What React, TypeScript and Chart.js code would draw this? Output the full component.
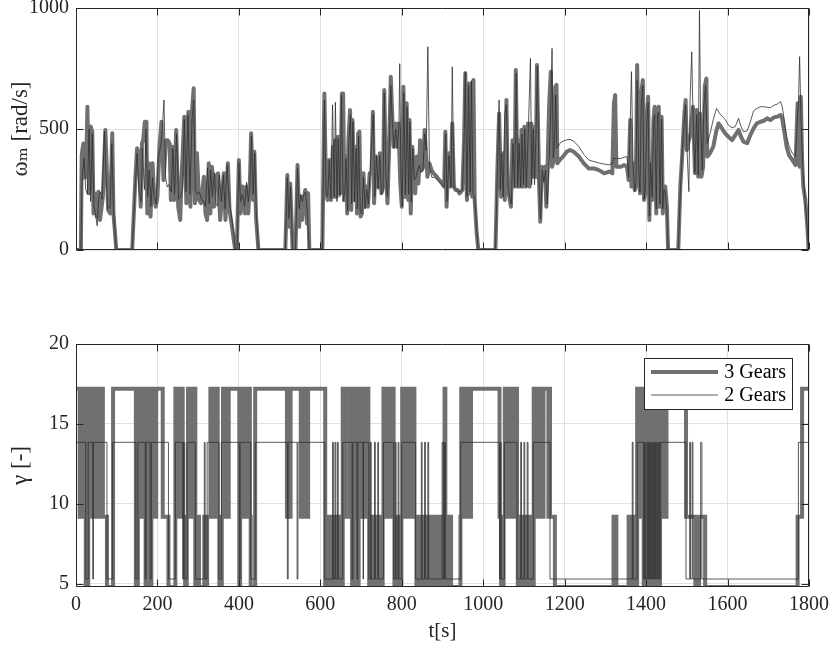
import React, { useEffect, useRef } from 'react';
import { Chart, registerables } from 'chart.js';

Chart.register(...registerables);

// ---------- data ----------
const seriesLabels = ['3 Gears', '2 Gears'];
const timeTicks = [0, 200, 400, 600, 800, 1000, 1200, 1400, 1600, 1800];
const speedTicks = [0, 500, 1000];
const ratioTicks = [5, 10, 15, 20];

// motor speed, 3 gears [t, omega]
const speed3: number[][] = [
  [0,0],[12,0],[14,392],[18,440],[22,300],[26,420],[28,592],[32,234],[36,510],[40,489],[43,151],[47,234],[51,138],[55,241],[59,124],[66,220],[72,496],[76,317],[79,165],[84,151],[89,482],[92,151],[99,0],
  [138,0],[146,303],[150,420],[154,400],[159,179],[162,440],[165,454],[169,530],[173,530],[175,151],[179,358],[183,138],[188,358],[192,207],[196,179],[200,220],[205,427],[210,530],[215,289],[221,454],[225,454],[230,440],[233,207],[237,427],[241,207],[246,496],[251,179],[256,124],[259,289],[266,551],[271,193],[276,571],[281,179],[285,578],[289,668],[292,193],[297,400],[302,207],[307,193],[314,303],[318,151],[322,124],[326,358],[330,151],[334,344],[339,179],[343,303],[349,317],[354,124],[358,207],[363,317],[367,124],[373,358],[377,165],[383,96],[391,0],[395,0],
  [400,372],[404,151],[409,262],[415,151],[419,262],[423,151],[427,275],[430,482],[435,207],[438,406],[442,138],[448,0],[514,0],[519,310],[523,96],[526,275],[532,0],[539,0],[544,351],[548,96],[552,220],[555,124],[559,207],[563,248],[567,110],[570,234],[573,0],[605,0],
  [610,647],[614,234],[618,207],[622,372],[626,207],[631,427],[633,220],[636,454],[640,220],[643,468],[646,454],[649,234],[653,647],[656,647],[659,207],[663,386],[666,151],[669,454],[673,578],[676,165],[679,537],[683,207],[687,427],[690,151],[693,482],[696,489],[699,138],[702,151],[706,317],[709,179],[713,262],[717,179],[721,317],[726,317],[729,571],[732,193],[736,386],[741,262],[746,400],[750,234],[754,262],[757,661],[761,317],[765,193],[769,427],[773,716],[777,537],[780,427],[784,523],[788,427],[792,523],[796,289],
  [800,179],[804,675],[808,220],[812,606],[816,207],[819,537],[822,151],[826,427],[830,289],[833,234],[837,386],[841,275],[845,454],[849,330],[853,344],[856,496],[859,413],[863,303],[868,358],[873,330],[878,317],[886,303],[892,289],[899,275],[904,262],[907,489],[910,179],[915,400],[920,262],[924,523],[928,262],[932,248],[937,248],[942,234],[949,248],[953,454],[956,730],[960,207],[963,688],[967,234],[970,688],[973,220],[976,702],[979,207],[984,69],[988,0],
  [1030,0],[1035,344],[1039,564],[1044,220],[1048,400],[1053,207],[1057,620],[1060,262],[1064,220],[1068,179],[1072,454],[1077,262],[1080,744],[1084,262],[1087,454],[1091,262],[1094,496],[1097,262],[1101,509],[1105,262],[1110,523],[1114,262],[1118,523],[1122,303],[1125,509],[1129,303],[1132,764],[1137,289],[1140,117],[1144,344],[1148,289],[1152,344],[1155,179],[1158,344],[1162,606],[1166,737],[1169,344],[1173,372],[1177,675],[1180,682],[1182,358],[1188,372],[1196,386],
  [1205,406],[1213,413],[1222,406],[1235,386],[1247,358],[1259,337],[1272,337],[1284,330],[1297,317],[1309,324],[1317,317],[1321,606],[1324,640],[1327,344],[1338,344],[1346,351],[1353,344],[1357,289],[1361,537],[1364,262],[1368,358],[1372,248],[1375,262],[1378,764],[1382,344],[1385,234],[1388,647],[1392,702],[1395,207],[1398,234],
  [1402,564],[1405,633],[1408,124],[1411,372],[1415,207],[1418,537],[1421,592],[1425,151],[1428,578],[1431,592],[1434,179],[1438,551],[1441,151],[1444,262],[1447,262],[1451,179],[1454,0],[1479,0],[1484,262],[1489,400],[1494,564],[1497,620],[1500,413],[1505,454],[1510,482],[1515,592],[1520,317],[1524,578],[1528,303],[1532,564],[1536,303],[1540,344],[1544,675],[1548,709],[1550,386],[1557,400],[1565,427],[1572,489],[1578,523],[1586,503],[1594,482],
  [1602,468],[1611,454],[1619,475],[1627,496],[1633,468],[1639,448],[1648,441],[1656,475],[1664,503],[1672,523],[1681,530],[1689,534],[1697,544],[1705,537],[1714,548],[1722,551],[1730,558],[1734,544],[1740,482],[1745,427],[1751,392],[1759,372],[1767,351],[1772,606],[1774,592],[1777,344],[1780,633],[1783,372],[1786,262],[1791,207],[1796,96],[1799,0]
];

// motor speed, 2 gears [t, omega]
const speed2: number[][] = [
  [0,0],[12,0],[15,300],[20,380],[24,250],[28,230],[32,500],[36,200],[40,480],[44,180],[48,150],[52,100],[56,220],[60,240],[64,210],[70,490],[74,300],[78,170],[84,180],[88,440],[92,160],[99,0],
  [138,0],[146,280],[150,400],[155,240],[160,200],[163,420],[168,250],[172,500],[176,220],[180,330],[184,180],[188,300],[192,220],[197,190],[202,380],[208,430],[212,500],[216,620],[220,300],[224,260],[228,270],[234,240],[238,420],[242,230],[247,480],[252,210],[257,220],[262,260],[266,540],[270,240],[275,560],[280,230],[285,540],[289,620],[293,250],[298,230],[303,240],[308,210],[313,200],[318,180],[323,340],[327,190],[331,330],[335,220],[340,320],[344,190],[348,180],[352,310],[357,200],[362,310],[366,170],[371,350],[376,210],[381,150],[388,60],[391,0],[396,0],
  [400,360],[404,200],[409,230],[414,180],[419,280],[423,200],[427,260],[431,470],[435,230],[439,400],[443,140],[448,0],[514,0],[519,300],[523,130],[527,260],[532,0],[539,0],[544,340],[548,170],[552,230],[556,200],[560,230],[564,240],[568,150],[573,0],[605,0],
  [610,620],[614,230],[618,220],[622,370],[626,210],[630,600],[634,220],[637,610],[641,200],[644,460],[648,220],[652,640],[656,200],[660,240],[663,380],[667,160],[670,450],[674,560],[677,190],[680,530],[684,200],[688,420],[691,170],[694,470],[698,160],[702,150],[706,300],[710,170],[714,250],[718,190],[722,320],[726,450],[730,560],[734,220],[738,390],[742,250],[746,390],[750,230],[754,240],[757,650],[761,300],[765,220],[769,420],[773,680],[777,520],[781,420],[785,500],[789,420],[793,510],[795,770],[798,300],
  [801,180],[805,650],[809,230],[813,590],[817,230],[820,530],[823,200],[827,420],[831,290],[835,300],[839,330],[843,350],[847,320],[852,330],[856,480],[860,410],[864,840],[868,340],[874,300],[880,300],[887,290],[893,280],[899,270],[904,260],[908,480],[911,200],[916,390],[921,260],[924,757],[928,260],[933,250],[938,240],[943,240],[949,250],[953,450],[956,737],[960,220],[964,680],[968,240],[971,700],[975,230],[979,220],[984,80],[988,0],
  [1030,0],[1035,340],[1039,620],[1042,250],[1045,400],[1049,220],[1053,560],[1057,600],[1061,260],[1065,220],[1069,190],[1073,440],[1077,260],[1081,730],[1085,260],[1088,440],[1092,260],[1095,480],[1099,270],[1102,500],[1106,260],[1111,510],[1116,792],[1119,270],[1123,500],[1126,270],[1130,510],[1133,760],[1137,280],[1141,130],[1145,330],[1149,280],[1153,330],[1157,190],[1161,330],[1166,580],[1169,833],[1172,380],[1175,440],[1178,640],[1181,420],[1188,440],[1196,450],
  [1205,455],[1213,457],[1222,450],[1235,427],[1247,395],[1259,372],[1272,365],[1284,360],[1297,355],[1309,352],[1317,358],[1321,380],[1324,378],[1327,378],[1338,378],[1346,383],[1353,386],[1357,300],[1361,520],[1364,737],[1368,340],[1372,240],[1375,280],[1378,700],[1382,330],[1385,240],[1388,600],[1392,680],[1395,210],[1398,250],
  [1402,540],[1405,610],[1408,140],[1411,360],[1415,220],[1418,520],[1421,560],[1425,170],[1428,560],[1431,570],[1434,190],[1438,540],[1441,170],[1444,250],[1447,240],[1451,160],[1454,0],[1479,0],[1484,240],[1489,420],[1494,540],[1497,600],[1500,430],[1505,241],[1508,620],[1512,819],[1515,560],[1520,320],[1524,560],[1528,310],[1531,990],[1534,520],[1538,330],[1542,600],[1546,680],[1550,440],[1557,480],[1565,540],[1573,585],[1580,565],[1588,550],[1594,540],
  [1602,516],[1611,505],[1619,510],[1627,544],[1633,510],[1639,489],[1648,492],[1656,530],[1664,575],[1672,585],[1681,592],[1689,592],[1697,590],[1705,588],[1714,598],[1722,603],[1730,613],[1734,595],[1740,530],[1745,470],[1751,430],[1759,400],[1767,385],[1772,560],[1774,600],[1777,799],[1780,560],[1783,420],[1786,300],[1791,190],[1796,90],[1799,0]
];

// gear ratio, 3 gears [t, gamma] (value held until next switch)
const gear3: number[][] = [
  [0,17.2],[9,9.2],[11,17.2],[13,9.2],[15,17.2],[17,9.2],[19,17.2],[21,9.2],[23,17.2],[24,4.8],[30,9.2],[32,17.2],[34,9.2],[36,17.2],[38,9.2],[40,17.2],[42,9.2],[44,17.2],[46,9.2],[48,17.2],[50,9.2],[52,17.2],[54,9.2],[56,17.2],[58,9.2],[60,17.2],[62,9.2],[64,17.2],[66,9.2],[76,4.8],[91,17.2],
  [147,4.8],[152,17.2],[161,9.2],[163,17.2],[165,9.2],[167,17.2],[169,9.2],[171,4.8],[173,9.2],[175,17.2],[177,9.2],[179,17.2],[181,9.2],[183,4.8],[185,17.2],[187,9.2],[189,17.2],[191,9.2],[193,17.2],[195,9.2],[197,17.2],[213,9.2],[227,4.8],
  [244,17.2],[246,9.2],[248,17.2],[250,9.2],[252,17.2],[254,9.2],[256,17.2],[258,9.2],[260,17.2],[262,9.2],[268,4.8],[272,9.2],[275,17.2],[277,9.2],[279,17.2],[281,9.2],[283,17.2],[285,9.2],[287,17.2],[289,9.2],[291,17.2],[293,4.8],[300,9.2],[302,4.8],[315,9.2],[317,4.8],[322,9.2],
  [330,17.2],[332,9.2],[334,17.2],[336,9.2],[338,17.2],[340,9.2],[342,17.2],[344,9.2],[346,17.2],[348,9.2],[352,4.8],[358,9.2],[361,17.2],[363,9.2],[366,17.2],[368,9.2],[371,17.2],[373,9.2],[375,17.2],
  [401,4.8],[403,9.2],[405,17.2],[407,9.2],[409,17.2],[411,9.2],[413,17.2],[415,9.2],[417,17.2],[419,9.2],[421,17.2],[423,9.2],[425,17.2],[427,9.2],[429,4.8],[440,17.2],[518,9.2],[520,17.2],[522,9.2],[524,17.2],[526,9.2],[527,17.2],
  [552,9.2],[554,17.2],[556,9.2],[558,17.2],[560,9.2],[562,17.2],[564,9.2],[566,17.2],[568,9.2],[570,17.2],[612,4.8],[616,9.2],[618,4.8],[622,9.2],[624,4.8],[628,9.2],[630,4.8],[634,9.2],[636,4.8],[640,9.2],[642,4.8],[646,9.2],[648,4.8],[652,9.2],[654,4.8],
  [655,17.2],[660,9.2],[662,17.2],[672,9.2],[674,17.2],[676,9.2],[678,4.8],[681,9.2],[683,17.2],[685,9.2],[687,17.2],[689,9.2],[691,4.8],[694,9.2],[696,17.2],[698,9.2],[700,17.2],[702,9.2],[704,17.2],[706,9.2],[708,17.2],[710,9.2],[712,17.2],[714,9.2],[716,17.2],
  [718,9.2],[720,4.8],[724,9.2],[726,4.8],[730,9.2],[732,4.8],[736,9.2],[738,4.8],[742,9.2],[744,4.8],[748,9.2],[750,4.8],[753,9.2],[755,17.2],[757,9.2],[759,17.2],[761,9.2],[763,17.2],[765,9.2],[767,17.2],[776,9.2],[778,17.2],
  [780,9.2],[782,4.8],[785,9.2],[787,4.8],[790,9.2],[792,4.8],[795,9.2],[797,4.8],[799,9.2],[801,17.2],[803,9.2],[805,17.2],[807,9.2],[809,17.2],[811,9.2],[813,17.2],[815,9.2],[817,17.2],[819,9.2],[821,17.2],[823,9.2],[825,17.2],[827,9.2],[829,17.2],[831,9.2],
  [836,4.8],[840,9.2],[843,4.8],[847,9.2],[850,4.8],[854,9.2],[857,4.8],[861,9.2],[864,4.8],[868,9.2],[871,4.8],[875,9.2],[878,4.8],[882,9.2],[885,4.8],[889,9.2],[892,4.8],[900,9.2],[903,4.8],[905,17.2],[907,9.2],[909,4.8],[913,9.2],[915,4.8],[919,9.2],[921,4.8],
  [944,9.2],[946,17.2],[948,9.2],[950,17.2],[952,9.2],[954,17.2],[956,9.2],[958,17.2],[960,9.2],[962,17.2],[964,9.2],[966,17.2],[968,9.2],[970,17.2],[1040,9.2],[1044,4.8],[1050,9.2],
  [1053,17.2],[1055,9.2],[1057,17.2],[1059,9.2],[1061,17.2],[1063,9.2],[1065,17.2],[1067,9.2],[1069,17.2],[1071,9.2],[1073,17.2],[1075,9.2],[1077,17.2],[1079,9.2],[1081,17.2],
  [1083,9.2],[1085,4.8],[1088,9.2],[1090,4.8],[1093,9.2],[1095,4.8],[1098,9.2],[1100,4.8],[1103,9.2],[1105,4.8],[1108,9.2],[1110,4.8],[1113,9.2],[1115,4.8],[1118,9.2],[1120,4.8],
  [1124,17.2],[1126,9.2],[1128,17.2],[1130,9.2],[1132,17.2],[1134,9.2],[1136,17.2],[1138,9.2],[1140,17.2],[1142,9.2],[1144,17.2],[1146,9.2],[1148,17.2],[1160,9.2],[1162,17.2],[1164,9.2],[1176,4.8],
  [1320,9.2],[1327,4.8],[1357,9.2],[1361,4.8],[1363,9.2],[1366,4.8],[1369,9.2],[1371,4.8],[1378,17.2],[1380,9.2],[1382,17.2],[1384,9.2],[1386,17.2],[1388,9.2],[1390,17.2],[1392,9.2],
  [1394,4.8],[1396,9.2],[1398,17.2],[1400,9.2],[1402,4.8],[1404,17.2],[1406,9.2],[1408,4.8],[1410,17.2],[1412,9.2],[1414,4.8],[1416,17.2],[1418,9.2],[1420,4.8],[1422,17.2],[1424,9.2],[1426,4.8],[1428,17.2],[1430,9.2],[1432,4.8],[1434,17.2],[1436,9.2],[1438,17.2],[1440,9.2],[1442,17.2],[1444,9.2],[1446,17.2],[1448,9.2],[1450,17.2],
  [1498,9.2],[1521,4.8],[1524,9.2],[1527,4.8],[1530,9.2],[1545,4.8],[1772,9.2],[1783,17.2],[1800,17.2]
];

// gear ratio, 2 gears [t, gamma]
const gear2: number[][] = [
  [0,13.85],[24,5.3],[30,13.85],[41,5.3],[43,13.85],[76,5.3],[90,13.85],[147,5.3],[152,13.85],[170,5.3],[172,13.85],[182,5.3],[185,13.85],[227,5.3],[244,13.85],[262,5.3],[264,13.85],[267,5.3],[273,13.85],[293,5.3],[315,13.85],[317,5.3],[322,13.85],[351,5.3],[357,13.85],
  [401,5.3],[403,13.85],[429,5.3],[440,13.85],[519,5.3],[521,13.85],[543,5.3],[545,13.85],[611,5.3],[630,13.85],[632,5.3],[636,13.85],[638,5.3],[642,13.85],[644,5.3],[655,13.85],[678,5.3],[680,13.85],[690,5.3],[692,13.85],[705,5.3],[706,13.85],
  [719,5.3],[723,13.85],[725,5.3],[733,13.85],[735,5.3],[741,13.85],[743,5.3],[755,13.85],[780,5.3],[784,13.85],[786,5.3],[791,13.85],[793,5.3],[800,13.85],[834,5.3],[848,13.85],[850,5.3],[856,13.85],[858,5.3],[864,13.85],[866,5.3],[899,13.85],[902,5.3],[905,13.85],[907,5.3],[945,13.85],
  [1040,5.3],[1042,13.85],[1044,5.3],[1052,13.85],[1083,5.3],[1092,13.85],[1094,5.3],[1100,13.85],[1102,5.3],[1108,13.85],[1110,5.3],[1123,13.85],[1164,5.3],[1366,13.85],[1368,5.3],[1378,13.85],[1394,5.3],[1396,13.85],[1398,5.3],[1402,13.85],[1404,5.3],[1406,13.85],[1408,5.3],[1411,13.85],[1413,5.3],[1416,13.85],[1418,5.3],[1421,13.85],[1423,5.3],[1426,13.85],[1428,5.3],[1431,13.85],[1433,5.3],[1436,13.85],
  [1498,5.3],[1507,13.85],[1509,5.3],[1513,13.85],[1515,5.3],[1534,13.85],[1537,5.3],[1774,13.85],[1800,13.85]
];

// ---------- styling ----------
const FONT = "'Liberation Serif', 'DejaVu Serif', serif";
const INK = '#262626';
const GRID = '#e1e1e1';
const THICK = '#707070';
const THIN = '#303030';

const toPoints = (rows: number[][]) => rows.map(([x, y]) => ({ x, y }));

const framePlugin = {
  id: 'frame',
  afterDatasetsDraw(chart: any) {
    const { ctx, chartArea: a, scales } = chart;
    const L = Math.round(a.left) + 0.5;
    const R = Math.round(a.right) - 0.5;
    const T = Math.round(a.top) + 0.5;
    const B = Math.round(a.bottom) - 0.5;
    const len = 7;
    ctx.save();
    ctx.strokeStyle = INK;
    ctx.lineWidth = 1;
    ctx.beginPath();
    ctx.rect(L, T, R - L, B - T);
    for (const t of scales.x.ticks) {
      const px = Math.round(scales.x.getPixelForValue(t.value)) + 0.5;
      ctx.moveTo(px, B); ctx.lineTo(px, B - len);
      ctx.moveTo(px, T); ctx.lineTo(px, T + len);
    }
    for (const t of scales.y.ticks) {
      const py = Math.round(scales.y.getPixelForValue(t.value)) + 0.5;
      ctx.moveTo(L, py); ctx.lineTo(L + len, py);
      ctx.moveTo(R, py); ctx.lineTo(R - len, py);
    }
    ctx.stroke();
    ctx.restore();
  },
};

const insetLegend = {
  id: 'insetLegend',
  afterDraw(chart: any) {
    const { ctx, chartArea: a } = chart;
    const w = 148, h = 51;
    const x0 = Math.round(a.right) - 17 - w;
    const y0 = Math.round(a.top) + 14;
    ctx.save();
    ctx.fillStyle = '#ffffff';
    ctx.fillRect(x0, y0, w, h);
    ctx.strokeStyle = INK;
    ctx.lineWidth = 1;
    ctx.strokeRect(x0 + 0.5, y0 + 0.5, w, h);
    chart.data.datasets.forEach((ds: any, i: number) => {
      const y = y0 + 14 + i * 23;
      ctx.beginPath();
      ctx.strokeStyle = ds.borderColor;
      ctx.lineWidth = ds.borderWidth;
      ctx.moveTo(x0 + 7, y);
      ctx.lineTo(x0 + 74, y);
      ctx.stroke();
      ctx.fillStyle = '#000';
      ctx.font = `20px ${FONT}`;
      ctx.textAlign = 'right';
      ctx.textBaseline = 'middle';
      ctx.fillText(ds.label, x0 + w - 6, y + 1);
    });
    ctx.restore();
  },
};

const tickFont = { family: FONT, size: 20 };

function xAxis(showLabels: boolean, height: number, title: string | null) {
  return {
    type: 'linear',
    min: 0,
    max: 1800,
    afterBuildTicks: (s: any) => { s.ticks = timeTicks.map((v) => ({ value: v })); },
    afterFit: (s: any) => { s.height = height; s.paddingLeft = 0; s.paddingRight = 0; },
    grid: { color: GRID, drawTicks: false, lineWidth: 1 },
    border: { display: false },
    ticks: { display: showLabels, padding: 6, color: INK, font: tickFont, maxRotation: 0, autoSkip: false, callback: (v: any) => String(v) },
    title: title
      ? { display: true, text: title, color: INK, font: { family: FONT, size: 21 }, padding: { top: 0, bottom: 2 } }
      : { display: false },
  };
}

function yAxis(min: number, max: number, ticks: number[], title: string) {
  return {
    type: 'linear',
    min,
    max,
    afterBuildTicks: (s: any) => { s.ticks = ticks.map((v) => ({ value: v })); },
    afterFit: (s: any) => { s.width = 76; s.paddingTop = 0; s.paddingBottom = 0; },
    grid: { color: GRID, drawTicks: false, lineWidth: 1 },
    border: { display: false },
    ticks: { padding: 7, color: INK, font: tickFont, callback: (v: any) => String(v) },
    title: { display: true, text: title, color: INK, font: { family: FONT, size: 23 }, padding: { top: 7, bottom: 0 } },
  };
}

export default function App() {
  const topRef = useRef<HTMLCanvasElement>(null);
  const botRef = useRef<HTMLCanvasElement>(null);

  useEffect(() => {
    const common = {
      responsive: false,
      animation: false,
      events: [],
      plugins: { legend: { display: false }, tooltip: { enabled: false } },
    };

    const top = new Chart(topRef.current as HTMLCanvasElement, {
      type: 'line',
      data: {
        datasets: [
          { label: seriesLabels[0], data: toPoints(speed3), borderColor: THICK, borderWidth: 4, pointRadius: 0, order: 2, borderJoinStyle: 'round', borderCapStyle: 'round', tension: 0 },
          { label: seriesLabels[1], data: toPoints(speed2), borderColor: THIN, borderWidth: 0.8, pointRadius: 0, order: 1, tension: 0 },
        ],
      } as any,
      options: {
        ...common,
        layout: { padding: { left: 0, right: 21, top: 8, bottom: 0 } },
        scales: {
          x: xAxis(false, 50, null),
          y: yAxis(0, 1000, speedTicks, 'ωₘ [rad/s]'),
        },
      } as any,
      plugins: [framePlugin],
    });

    const bot = new Chart(botRef.current as HTMLCanvasElement, {
      type: 'line',
      data: {
        datasets: [
          { label: seriesLabels[0], data: toPoints(gear3), borderColor: THICK, borderWidth: 4, pointRadius: 0, order: 2, stepped: true, borderJoinStyle: 'miter' },
          { label: seriesLabels[1], data: toPoints(gear2), borderColor: THIN, borderWidth: 0.8, pointRadius: 0, order: 1, stepped: true },
        ],
      } as any,
      options: {
        ...common,
        layout: { padding: { left: 0, right: 21, top: 44, bottom: 0 } },
        scales: {
          x: xAxis(true, 59, 't[s]'),
          y: yAxis(4.8, 20, ratioTicks, 'γ [-]'),
        },
      } as any,
      plugins: [framePlugin, insetLegend],
    });

    return () => {
      top.destroy();
      bot.destroy();
    };
  }, []);

  return (
    <div style={{ position: 'absolute', left: 0, top: 0, width: 830, height: 646, background: '#ffffff' }}>
      <canvas ref={topRef} width={830} height={300} style={{ position: 'absolute', left: 0, top: 0 }} />
      <canvas ref={botRef} width={830} height={346} style={{ position: 'absolute', left: 0, top: 300 }} />
    </div>
  );
}
